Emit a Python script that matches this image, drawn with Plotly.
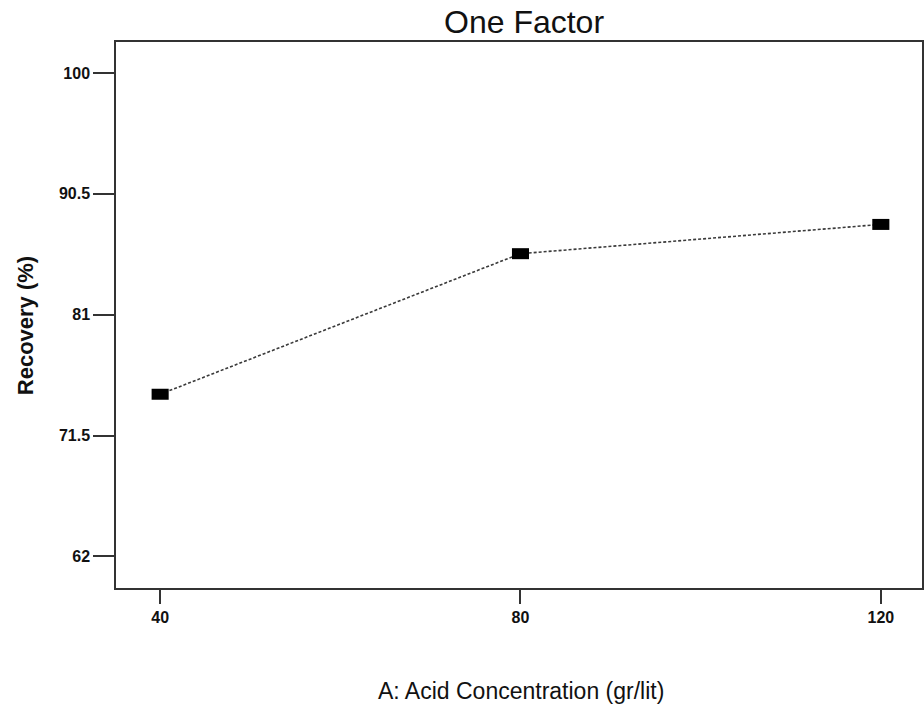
import plotly.graph_objects as go

# Acid concentration levels (gr/lit) and predicted recovery (%)
acid_conc = [40, 80, 120]
recovery = [74.75, 85.8, 88.1]

x_ticks = [40, 80, 120]
y_ticks = [62, 71.5, 81, 90.5, 100]
y_tick_text = ["62", "71.5", "81", "90.5", "100"]

W, H = 924, 706
L, R, T, B = 116, 0, 42, 118
plot_w = W - L - R
plot_h = H - T - B

FONT = "Liberation Sans, Arial, sans-serif"

fig = go.Figure()
fig.add_trace(go.Scatter(
    x=acid_conc, y=recovery,
    mode="lines+markers",
    line=dict(color="#3a3a3a", width=1.6, dash="3px,2px"),
    marker=dict(symbol="line-ew", size=12.2, color="black",
                line=dict(color="black", width=11)),
    showlegend=False,
    cliponaxis=False,
))

axis_font = dict(family=FONT, size=16, color="#111")

fig.update_layout(
    width=W, height=H,
    margin=dict(l=L, r=R, t=T, b=B),
    paper_bgcolor="white", plot_bgcolor="white",
    xaxis=dict(
        range=[35.1, 124.57], tickvals=x_ticks, ticktext=["<b>%d</b>" % v for v in x_ticks],
        ticks="outside", ticklen=14, tickwidth=1.5, tickcolor="#333",
        showline=True, linecolor="#333", linewidth=1.5, mirror=True,
        showgrid=False, zeroline=False, tickfont=axis_font,
    ),
    yaxis=dict(
        range=[59.52, 102.44], tickvals=y_ticks, ticktext=["<b>%s</b>" % t for t in y_tick_text],
        ticks="outside", ticklen=21, tickwidth=1.5, tickcolor="#333",
        showline=True, linecolor="#333", linewidth=1.5, mirror=True,
        showgrid=False, zeroline=False, tickfont=axis_font,
    ),
    annotations=[
        dict(text="One Factor", xref="paper", yref="paper",
             x=(525 - L) / plot_w, y=1 + 20 / plot_h, xanchor="center", yanchor="middle",
             showarrow=False,
             font=dict(family=FONT, size=32, color="#111")),
        dict(text="A: Acid Concentration (gr/lit)", xref="paper", yref="paper",
             x=(522 - L) / plot_w, y=-(691 - (T + plot_h)) / plot_h,
             xanchor="center", yanchor="middle", showarrow=False,
             font=dict(family=FONT, size=23, color="#111")),
        dict(text="<b>Recovery (%)</b>", xref="paper", yref="paper",
             x=-(L - 26) / plot_w, y=(T + plot_h - 326) / plot_h, textangle=-90,
             xanchor="center", yanchor="middle", showarrow=False,
             font=dict(family=FONT, size=22, color="#111")),
    ],
)

fig.write_html("out.html")
